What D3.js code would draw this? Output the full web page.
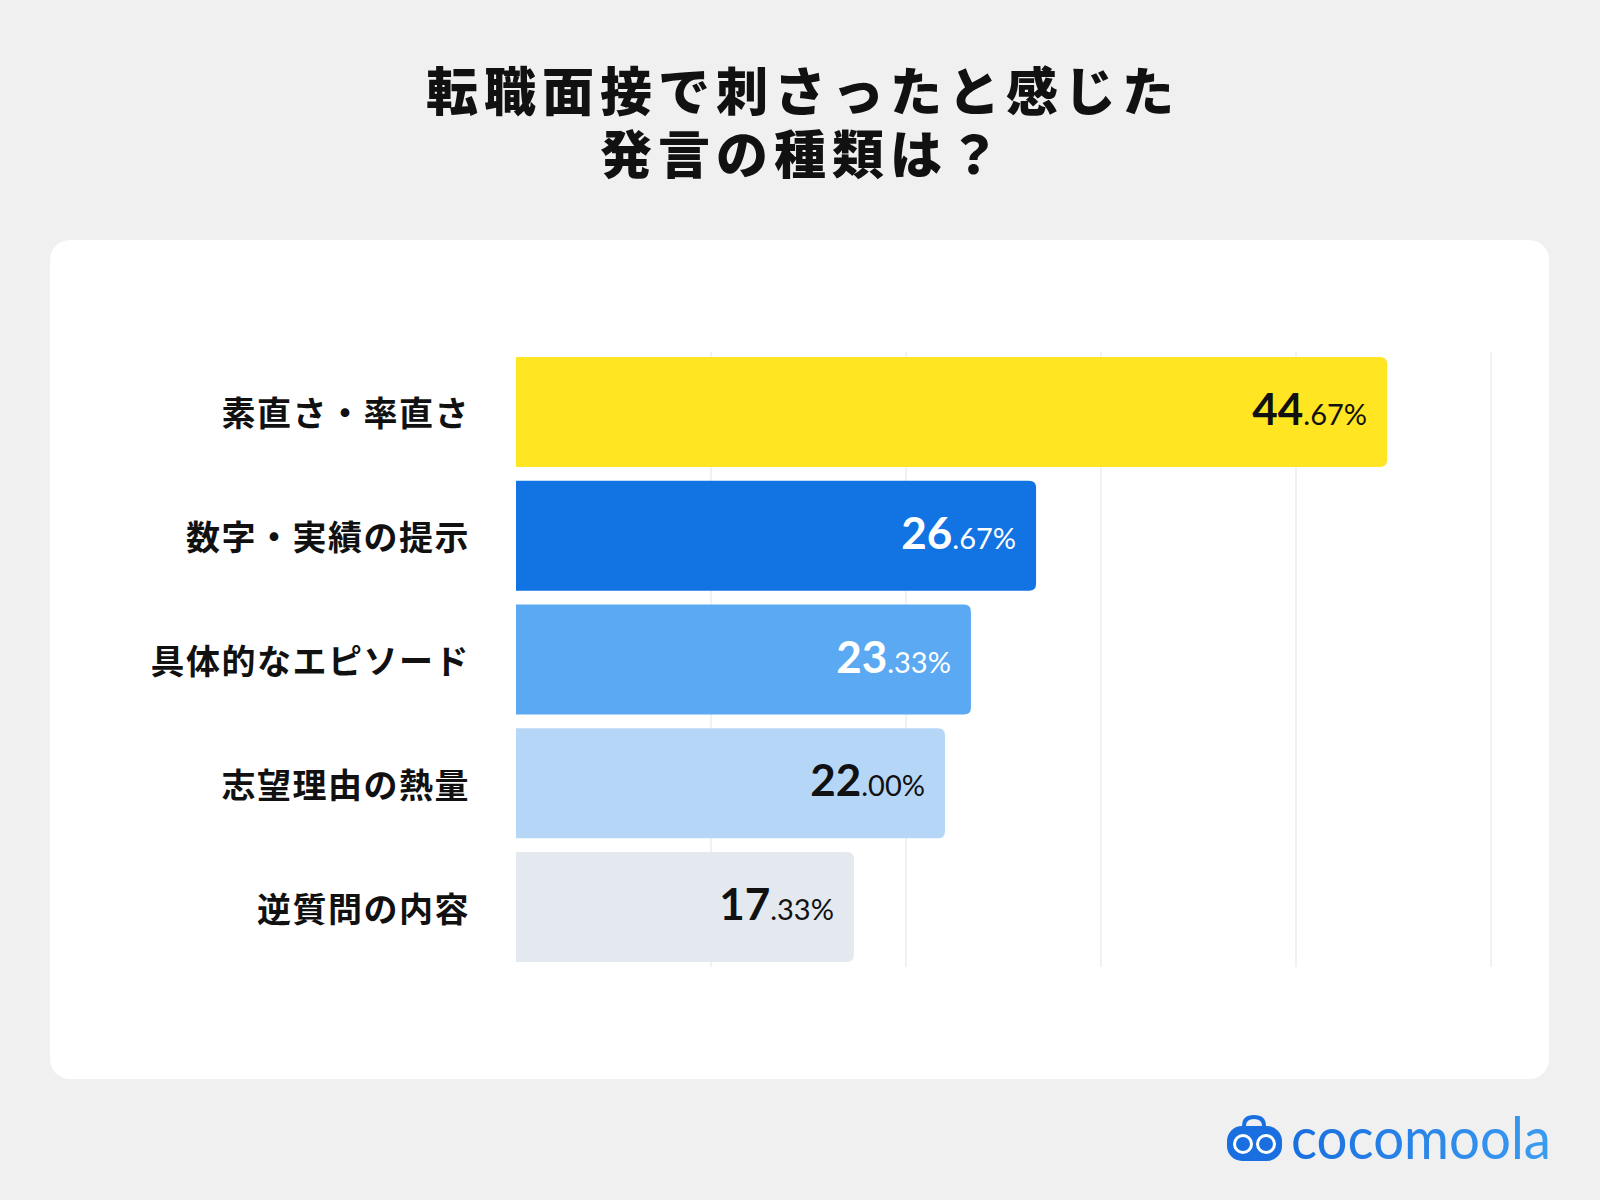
<!DOCTYPE html>
<html>
<head>
<meta charset="utf-8">
<script src="https://cdn.jsdelivr.net/npm/d3@7"></script>
<style>
  html, body { margin: 0; padding: 0; background: #f0f0f0; }
  svg { display: block; }
</style>
</head>
<body>
<div id="chart"></div>
<script>
// chart data
const titleLines = ["転職面接で刺さったと感じた", "発言の種類は？"];
const categories = ["素直さ・率直さ", "数字・実績の提示", "具体的なエピソード", "志望理由の熱量", "逆質問の内容"];
const values = [44.67, 26.67, 23.33, 22.00, 17.33];
const barColors = ["#ffe522", "#1273e3", "#5ba9f2", "#b6d6f8", "#e4e8ef"];
const labelColors = ["#111111", "#ffffff", "#ffffff", "#111111", "#111111"];
const gridTicks = [10, 20, 30, 40, 50];

const W = 1600, H = 1200;
const jpFont = "'Noto Sans CJK JP', 'Noto Sans', sans-serif";
const numFont = "Lato, 'Open Sans', sans-serif";

const svg = d3.select("#chart").append("svg")
    .attr("width", W)
    .attr("height", H);

svg.append("rect").attr("width", W).attr("height", H).attr("fill", "#f0f0f0");

// title (one text, two lines)
const title = svg.append("text")
    .attr("text-anchor", "middle")
    .attr("dominant-baseline", "central")
    .attr("font-family", jpFont)
    .attr("font-weight", 900)
    .attr("font-size", 52)
    .attr("letter-spacing", 6)
    .attr("fill", "#111");
title.selectAll("tspan")
    .data(titleLines)
    .join("tspan")
    .attr("x", 803)
    .attr("y", (d, i) => 88 + i * 63)
    .text(d => d);

// white card
svg.append("rect")
    .attr("x", 50).attr("y", 240)
    .attr("width", 1499).attr("height", 839)
    .attr("rx", 20)
    .attr("fill", "#ffffff");

const x = d3.scaleLinear().domain([0, 50]).range([516, 1491]);
const y = d3.scaleBand().domain(categories).range([350.1, 968.9]).paddingInner(0.111).paddingOuter(0.055);

// grid
svg.append("g").selectAll("line")
    .data(gridTicks)
    .join("line")
    .attr("x1", d => x(d)).attr("x2", d => x(d))
    .attr("y1", 352).attr("y2", 967)
    .attr("stroke", "#f1f1f3")
    .attr("stroke-width", 2);

// bars: flat left, rounded right
const r = 7;
function barPath(x0, x1, y0, h) {
    return `M${x0},${y0}H${x1 - r}Q${x1},${y0} ${x1},${y0 + r}V${y0 + h - r}Q${x1},${y0 + h} ${x1 - r},${y0 + h}H${x0}Z`;
}

const rows = categories.map((c, i) => ({ cat: c, v: values[i], i: i }));

svg.append("g").selectAll("path")
    .data(rows)
    .join("path")
    .attr("d", d => barPath(x(0), x(d.v), y(d.cat), y.bandwidth()))
    .attr("fill", d => barColors[d.i]);

// category labels
svg.append("g").selectAll("text")
    .data(rows)
    .join("text")
    .attr("x", 470)
    .attr("y", d => y(d.cat) + y.bandwidth() / 2)
    .attr("text-anchor", "end")
    .attr("dominant-baseline", "central")
    .attr("font-family", jpFont)
    .attr("font-weight", 700)
    .attr("font-size", 34)
    .attr("letter-spacing", 1.5)
    .attr("fill", "#111")
    .text(d => d.cat);

// value labels: big integer part + small decimals
const vl = svg.append("g").selectAll("text")
    .data(rows)
    .join("text")
    .attr("x", d => x(d.v) - 20)
    .attr("y", d => y(d.cat) + y.bandwidth() / 2 + 13)
    .attr("text-anchor", "end")
    .attr("font-family", numFont)
    .attr("fill", d => labelColors[d.i]);

vl.append("tspan")
    .attr("font-size", 44)
    .attr("font-weight", 700)
    .text(d => d.v.toFixed(2).split(".")[0]);
vl.append("tspan")
    .attr("font-size", 29)
    .attr("font-weight", 400)
    .text(d => "." + d.v.toFixed(2).split(".")[1] + "%");

// logo
const grad = svg.append("defs").append("linearGradient")
    .attr("id", "logoGrad").attr("x1", "0%").attr("x2", "100%");
grad.append("stop").attr("offset", "0%").attr("stop-color", "#1a6fe0");
grad.append("stop").attr("offset", "100%").attr("stop-color", "#3a9cf0");

const logo = svg.append("g");
logo.append("path")
    .attr("d", "M1244,1126 Q1244,1117 1254,1117 Q1264,1117 1264,1126")
    .attr("fill", "none").attr("stroke", "#1a6fe0").attr("stroke-width", 4);
logo.append("rect")
    .attr("x", 1227).attr("y", 1126).attr("width", 55).attr("height", 35)
    .attr("rx", 15).attr("fill", "#1a6fe0");
[1243, 1266].forEach(cx => {
    logo.append("circle").attr("cx", cx).attr("cy", 1144).attr("r", 8.5)
        .attr("fill", "none").attr("stroke", "#ffffff").attr("stroke-width", 3);
});
logo.append("text")
    .attr("x", 1291).attr("y", 1159)
    .attr("font-family", "Lato, 'Noto Sans', sans-serif")
    .attr("font-size", 58)
    .attr("font-weight", 400)
    .attr("textLength", 260)
    .attr("lengthAdjust", "spacingAndGlyphs")
    .attr("fill", "url(#logoGrad)")
    .text("cocomoola");
</script>
</body>
</html>
